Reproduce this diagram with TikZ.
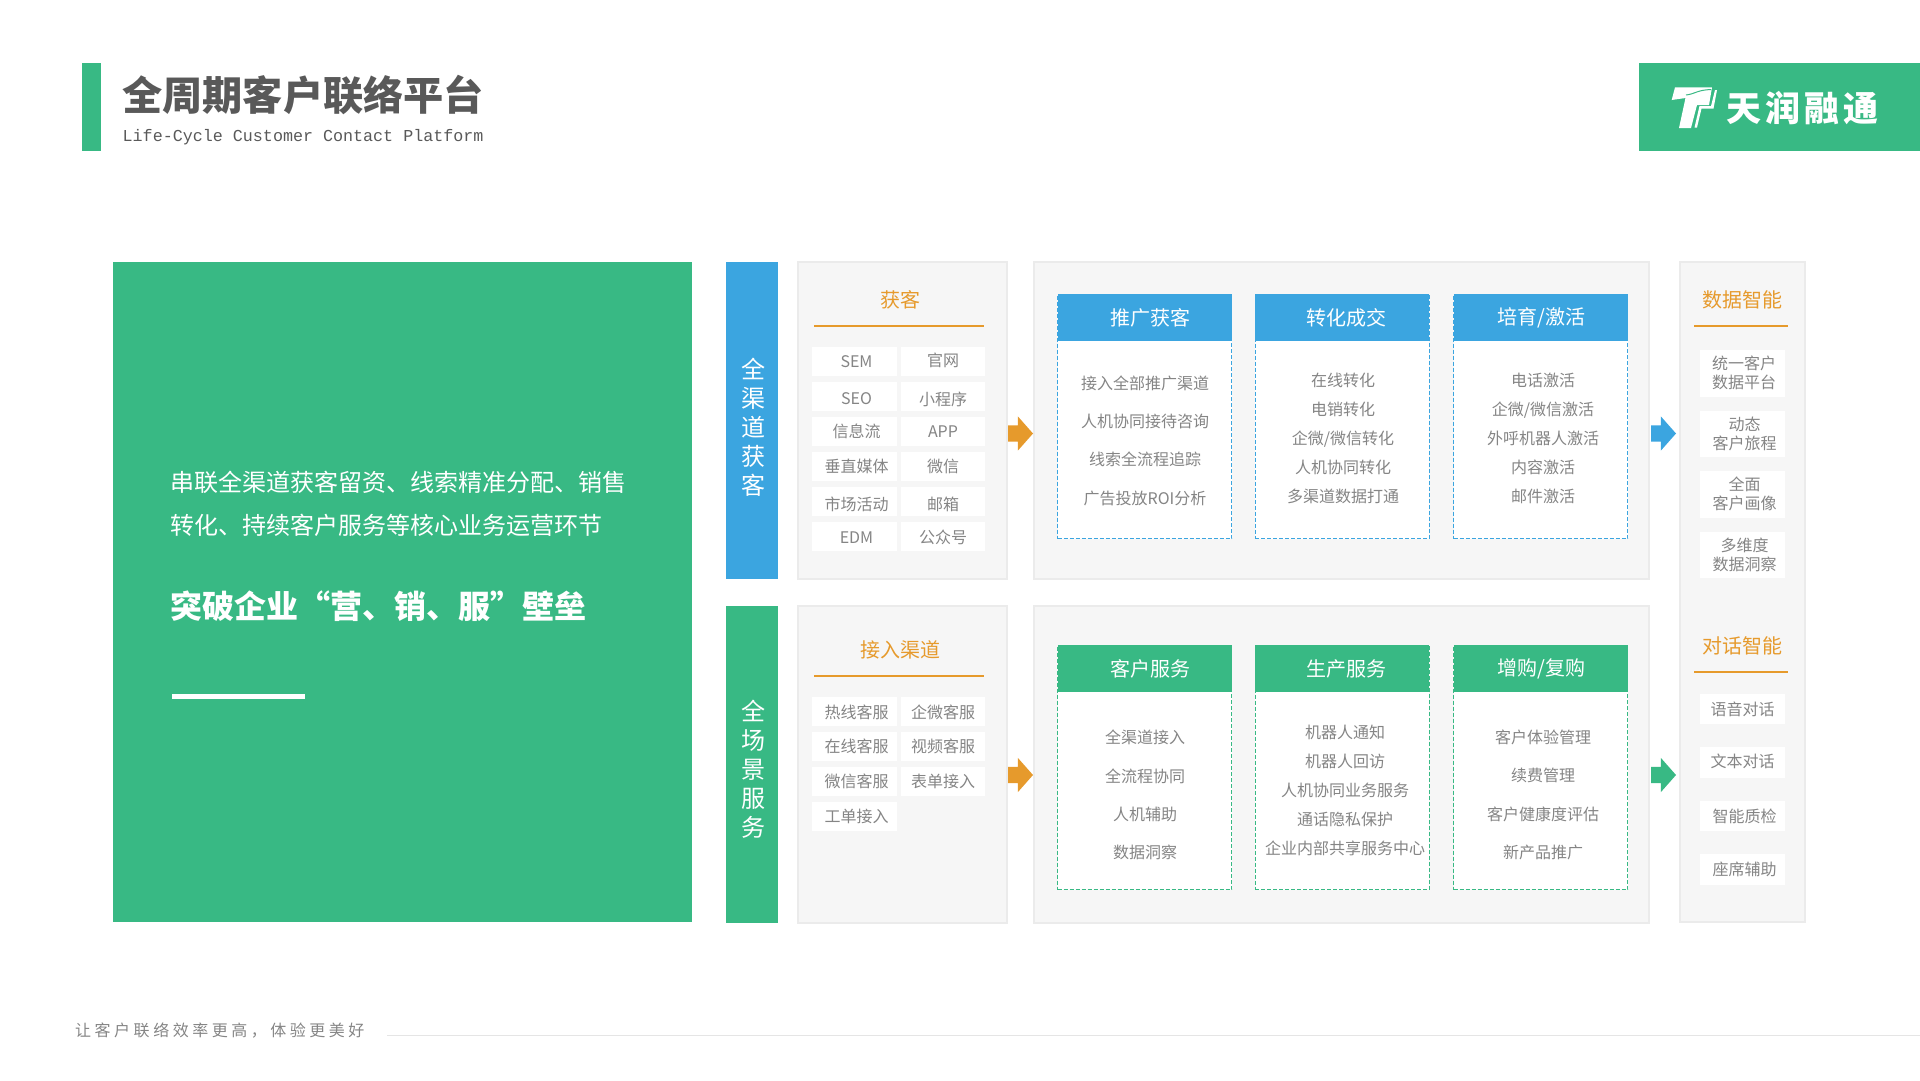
\documentclass[tikz,border=0pt]{standalone}
\usepackage{fontspec}
\setmainfont{Noto Sans CJK SC}
\setmonofont{Liberation Mono}
\newfontfamily\spacedfont[LetterSpace=22]{Noto Sans CJK SC}
\newfontfamily\logofont[LetterSpace=12]{Noto Sans CJK SC}
\usetikzlibrary{positioning,shapes.arrows}
\definecolor{tgreen}{HTML}{38B984}
\definecolor{tblue}{HTML}{3BA5E0}
\definecolor{torange}{HTML}{E69A2C}
\definecolor{tgray}{HTML}{858585}
\newcommand{\nudge}[2]{\raisebox{#1}[\height][\depth]{#2}}
\tikzstyle{panel}=[rectangle,draw=black!8,fill=black!3.5,line width=2pt,anchor=north west,inner sep=0pt]
\tikzstyle{bar}=[rectangle,inner sep=0pt,minimum width=52pt,minimum height=317pt]
\tikzstyle{bartext}=[text=white,inner sep=0pt,align=center,font=\fontsize{24}{29}\selectfont]
\tikzstyle{heading}=[text=torange,inner sep=0pt,font=\fontsize{20}{24}\selectfont]
\tikzstyle{chip}=[rectangle,fill=white,text=tgray,inner sep=0pt,outer sep=0pt,minimum width=84.5pt,minimum height=29pt,font=\fontsize{16}{20}\selectfont]
\tikzstyle{bigchip}=[chip,minimum height=46.5pt,align=center,font=\fontsize{16}{19}\selectfont]
\tikzstyle{smallchip}=[chip,minimum height=30.5pt]
\tikzstyle{frame}=[rectangle,fill=white,line width=1pt,dash pattern=on 4pt off 2pt,inner sep=0pt,outer sep=0pt,minimum width=174pt,minimum height=244.5pt]
\tikzstyle{head}=[rectangle,text=white,inner sep=0pt,outer sep=0pt,minimum width=174pt,minimum height=47pt,font=\fontsize{20}{24}\selectfont]
\tikzstyle{cardtext}=[text=tgray,inner sep=0pt,align=center]
\tikzstyle{arrowtip}=[single arrow,inner xsep=0pt,inner ysep=8pt,outer sep=0pt,anchor=tail,minimum height=25pt,minimum width=34pt,single arrow head extend=9pt,single arrow tip angle=97]

\begin{document}
\begin{tikzpicture}[x=1pt,y=-1pt]
    \useasboundingbox (0,0) rectangle (1920,1080);

    % title
    \fill[tgreen] (82,63) rectangle (101,151);
    \node[anchor=west,inner sep=0pt,text=black!65,font=\fontsize{40.2}{48}\selectfont\bfseries] (title) at (122,94.5) {全周期客户联络平台};
    \node[anchor=west,inner sep=0pt,text=black!65,font=\fontsize{16.7}{22}\selectfont\ttfamily] (subtitle) at (122.5,137) {Life-Cycle Customer Contact Platform};

    % logo
    \fill[tgreen] (1639,63) rectangle (1920,151);
    \fill[white] (1671.7,100) -- (1675,87.3) -- (1712,87.3) -- (1709,105) -- (1697,105) -- (1691,128) -- (1679,128) -- (1685.5,98) -- cycle;
    \fill[white] (1715,90) -- (1717,90) -- (1713.5,108.5) -- (1701.5,108.5) -- (1697,127.5) -- (1694.5,127.5) -- (1699.5,106) -- (1711,106) -- cycle;
    \draw[tgreen,line width=1pt] (1686,95) .. controls (1695,94) and (1697,90) .. (1711,89.5);
    \node[anchor=west,inner sep=0pt,text=white,font=\fontsize{35}{40}\logofont\bfseries] (logotext) at (1726,108) {天润融通};

    % left block
    \fill[tgreen] (112.6,262) rectangle (692,922);
    \node[anchor=west,inner sep=0pt,text=white,font=\fontsize{24}{43}\selectfont,align=left] (intro) at (170.5,503.5) {串联全渠道获客留资、线索精准分配、销售\\转化、持续客户服务等核心业务运营环节};
    \node[anchor=west,inner sep=0pt,text=white,font=\fontsize{32}{38}\selectfont\bfseries] (slogan) at (170.5,606) {突破企业“营、销、服”壁垒};
    \fill[white] (172,694) rectangle (305,699);

    % side bars
    \node[bar,fill=tblue,anchor=north west] (barone) at (726,262) {};
    \node[bartext] (baronetext) at (753.5,427) {全\\渠\\道\\获\\客};
    \node[bar,fill=tgreen,anchor=north west] (bartwo) at (726,606) {};
    \node[bartext] (bartwotext) at (753.5,769) {全\\场\\景\\服\\务};

    % panels
    \node[panel,minimum width=209pt,minimum height=317pt] (panela) at (797,261) {};
    \node[panel,minimum width=615pt,minimum height=317pt] (panelb) at (1033,261) {};
    \node[panel,minimum width=209pt,minimum height=317pt] (panelc) at (797,605) {};
    \node[panel,minimum width=615pt,minimum height=317pt] (paneld) at (1033,605) {};
    \node[panel,minimum width=125pt,minimum height=660pt] (panele) at (1679,261) {};

    % arrows
    \node[arrowtip,fill=torange] (arrowa) at (1008,433.5) {};
    \node[arrowtip,fill=torange] (arrowc) at (1008,775) {};
    \node[arrowtip,fill=tblue] (arrowb) at (1651,433.5) {};
    \node[arrowtip,fill=tgreen] (arrowd) at (1651,775) {};

    % top left channels
    \node[heading] (huoke) at (900,300) {获客};
    \draw[torange,line width=1.2pt] (814,326) -- (984,326);
    \node[chip] (sem) at (854.5,361.5) {\hspace*{4pt}SEM};
    \node[chip] (seo) [below=6pt of sem] {\hspace*{4pt}\nudge{-2.4pt}{SEO}};
    \node[chip] (feed) [below=6pt of seo] {\hspace*{4pt}信息流};
    \node[chip] (media) [below=6pt of feed] {\hspace*{4pt}垂直媒体};
    \node[chip] (event) [below=6pt of media] {\hspace*{4pt}\nudge{-2.4pt}{市场活动}};
    \node[chip] (edm) [below=6pt of event] {\hspace*{4pt}\nudge{-1.2pt}{EDM}};
    \node[chip] (site) [right=4pt of sem] {\nudge{1pt}{官网}};
    \node[chip] (mini) [right=4pt of seo] {\nudge{-2.4pt}{小程序}};
    \node[chip] (app) [right=4pt of feed] {APP};
    \node[chip] (wechat) [right=4pt of media] {微信};
    \node[chip] (mail) [right=4pt of event] {\nudge{-2.4pt}{邮箱}};
    \node[chip] (account) [right=4pt of edm] {\nudge{-1.2pt}{公众号}};

    % bottom left channels
    \node[heading] (jieru) at (900,650) {接入渠道};
    \draw[torange,line width=1.2pt] (814,676) -- (984,676);
    \node[chip] (hotline) at (854.5,711.5) {\hspace*{4pt}\nudge{-1.2pt}{热线客服}};
    \node[chip] (online) [below=6pt of hotline] {\hspace*{4pt}在线客服};
    \node[chip] (wxservice) [below=6pt of online] {\hspace*{4pt}微信客服};
    \node[chip] (ticket) [below=6pt of wxservice] {\hspace*{4pt}工单接入};
    \node[chip] (wework) [right=4pt of hotline] {\nudge{-1.2pt}{企微客服}};
    \node[chip] (video) [right=4pt of online] {视频客服};
    \node[chip] (form) [right=4pt of wxservice] {表单接入};

    % top cards
    \node[frame,draw=tblue,anchor=north west] (framea) at (1057.5,294) {};
    \node[frame,draw=tblue] (frameb) [right=23.5pt of framea] {};
    \node[frame,draw=tblue] (framec) [right=24.5pt of frameb] {};
    \node[head,fill=tblue] (tuiguang) [below=0pt of framea.north] {\hspace*{12pt}推广获客};
    \node[head,fill=tblue] (zhuanhua) [below=0pt of frameb.north] {\hspace*{8pt}转化成交};
    \node[head,fill=tblue] (peiyu) [below=0pt of framec.north] {\hspace*{2pt}培育/激活};
    \node[cardtext,font=\fontsize{16}{38.3}\selectfont] (texta) at (1145,440.5) {接入全部推广渠道\\人机协同接待咨询\\线索全流程追踪\\广告投放ROI分析};
    \node[cardtext,font=\fontsize{16}{29}\selectfont] (textb) at (1343,438) {在线转化\\电销转化\\企微/微信转化\\人机协同转化\\多渠道数据打通};
    \node[cardtext,font=\fontsize{16}{29}\selectfont] (textc) at (1543,438) {电话激活\\企微/微信激活\\外呼机器人激活\\内容激活\\邮件激活};

    % bottom cards
    \node[frame,draw=tgreen,anchor=north west] (framed) at (1057.5,645) {};
    \node[frame,draw=tgreen] (framee) [right=23.5pt of framed] {};
    \node[frame,draw=tgreen] (framef) [right=24.5pt of framee] {};
    \node[head,fill=tgreen] (kefu) [below=0pt of framed.north] {\hspace*{12pt}客户服务};
    \node[head,fill=tgreen] (shengchan) [below=0pt of framee.north] {\hspace*{8pt}生产服务};
    \node[head,fill=tgreen] (zenggou) [below=0pt of framef.north] {\hspace*{2pt}增购/复购};
    \node[cardtext,font=\fontsize{16}{38.3}\selectfont] (textd) at (1145,795) {全渠道接入\\全流程协同\\人机辅助\\数据洞察};
    \node[cardtext,font=\fontsize{16}{28.8}\selectfont] (texte) at (1345,790.5) {机器人通知\\机器人回访\\人机协同业务服务\\通话隐私保护\\企业内部共享服务中心};
    \node[cardtext,font=\fontsize{16}{38.3}\selectfont] (textf) at (1543,795) {客户体验管理\\续费管理\\客户健康度评估\\新产品推广};

    % right column
    \node[heading] (shuju) at (1742,300) {数据智能};
    \draw[torange,line width=1.2pt] (1694,326) -- (1788,326);
    \node[bigchip] (unify) at (1742.5,373.25) {\hspace*{3pt}统一客户\\\hspace*{3pt}数据平台};
    \node[bigchip] (journey) [below=14pt of unify] {\hspace*{4pt}动态\\\hspace*{4pt}客户旅程};
    \node[bigchip] (portrait) [below=14pt of journey] {\hspace*{4pt}全面\\\hspace*{4pt}客户画像};
    \node[bigchip] (insight) [below=14pt of portrait] {\hspace*{4pt}多维度\\\hspace*{4pt}数据洞察};
    \node[heading] (duihua) at (1742,646) {对话智能};
    \draw[torange,line width=1.2pt] (1694,672) -- (1788,672);
    \node[smallchip] (voice) at (1742.5,709) {语音对话};
    \node[smallchip] (textchat) [below=23pt of voice] {\nudge{1pt}{文本对话}};
    \node[smallchip] (quality) [below=23pt of textchat] {\hspace*{4pt}智能质检};
    \node[smallchip] (seat) [below=23pt of quality] {\hspace*{4pt}座席辅助};

    % footer
    \node[anchor=west,inner sep=0pt,text=tgray,font=\fontsize{16}{20}\spacedfont] (footer) at (75,1031) {让客户联络效率更高，体验更美好};
    \draw[black!10,line width=1pt] (387,1035) -- (1920,1035);
  \end{tikzpicture}
\end{document}
